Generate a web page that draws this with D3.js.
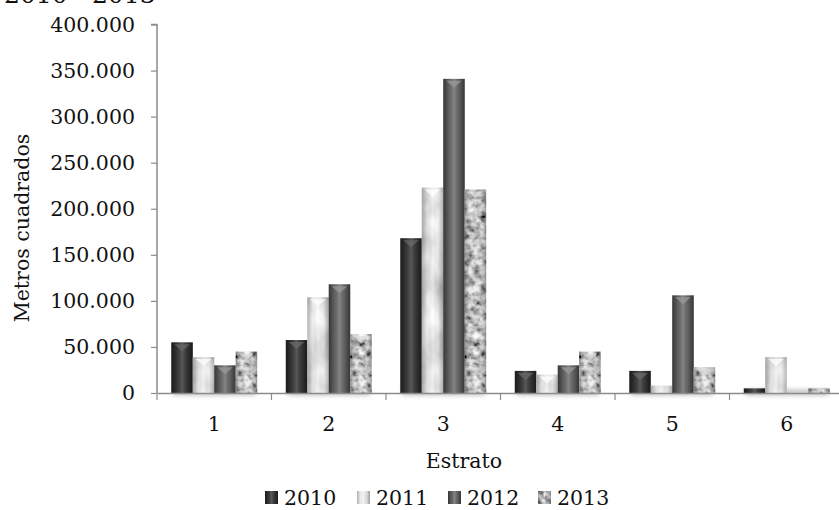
<!DOCTYPE html>
<html><head><meta charset="utf-8">
<script src="https://cdn.jsdelivr.net/npm/d3@7"></script>
<style>body{margin:0;background:#fff;overflow:hidden} svg{display:block}</style>
</head><body>
<svg id="chart" width="839" height="510"></svg>
<script>
const categories = ["1", "2", "3", "4", "5", "6"];
const seriesNames = ["2010", "2011", "2012", "2013"];
const values2010 = [55000, 57500, 168000, 24000, 24000, 5000];
const values2011 = [39000, 104000, 223000, 20000, 8000, 39000];
const values2012 = [30000, 118000, 341000, 30000, 106000, 0];
const values2013 = [45000, 64000, 221000, 45000, 28000, 5000];
const yTicks = [0, 50000, 100000, 150000, 200000, 250000, 300000, 350000, 400000];
const titleText = "2010 - 2013";
const xTitle = "Estrato";
const yTitle = "Metros cuadrados";

const seriesValues = [values2010, values2011, values2012, values2013];
const rows = categories.map((c, i) => ({cat: c, vals: seriesNames.map((s, k) => ({s, k, v: seriesValues[k][i]}))}));

const svg = d3.select("#chart");
const font = "'DejaVu Serif', serif";
const fmt = d3.formatLocale({decimal: ",", thousands: ".", grouping: [3], currency: ["", ""]}).format(",");

const x0 = d3.scaleBand().domain(categories).range([157, 844]).paddingInner(0.25).paddingOuter(0.125);
const x1 = d3.scaleBand().domain(seriesNames).range([0, x0.bandwidth()]).padding(0);
const y = d3.scaleLinear().domain([0, 400000]).range([393, 24.5]);

// ---- defs: textures & gradients
const defs = svg.append("defs");
function grad(id, stops) {
  const g = defs.append("linearGradient").attr("id", id).attr("x1", "0%").attr("x2", "100%").attr("y1", "0%").attr("y2", "0%");
  stops.forEach(([o, c, op]) => g.append("stop").attr("offset", o).attr("stop-color", c).attr("stop-opacity", op == null ? 1 : op));
}
grad("g2010", [["0%", "#262626"], ["50%", "#464646"], ["100%", "#262626"]]);
grad("g2012", [["0%", "#4e4e4e"], ["50%", "#777777"], ["100%", "#4e4e4e"]]);
grad("edge", [["0%", "#000", 0.28], ["25%", "#000", 0.05], ["50%", "#fff", 0.1], ["75%", "#000", 0.05], ["100%", "#000", 0.3]]);

function noiseFilter(id, freq, a, b, seed) {
  const f = defs.append("filter").attr("id", id).attr("x", 0).attr("y", 0).attr("width", "100%").attr("height", "100%");
  f.append("feTurbulence").attr("type", "fractalNoise").attr("baseFrequency", freq).attr("numOctaves", 3).attr("seed", seed).attr("result", "n");
  const m = `${a} 0 0 0 ${b}  ${a} 0 0 0 ${b}  ${a} 0 0 0 ${b}  0 0 0 0 1`;
  f.append("feColorMatrix").attr("in", "n").attr("type", "matrix").attr("values", m);
}
noiseFilter("f2011", "0.06 0.03", 0.7, 0.5, 3);
noiseFilter("f2013", "0.15", 1.7, -0.28, 7);
function noisePattern(id, filt) {
  const p = defs.append("pattern").attr("id", id).attr("patternUnits", "userSpaceOnUse").attr("width", 200).attr("height", 400);
  p.append("rect").attr("width", 200).attr("height", 400).attr("fill", "#fff").attr("filter", `url(#${filt})`);
}
noisePattern("p2011", "f2011");
noisePattern("p2013", "f2013");
const blur = defs.append("filter").attr("id", "blur").attr("x", "-20%").attr("y", "-200%").attr("width", "140%").attr("height", "500%");
blur.append("feGaussianBlur").attr("stdDeviation", 2.5);

const fills = ["url(#g2010)", "url(#p2011)", "url(#g2012)", "url(#p2013)"];
const triFill = ["#6a6a6a", "#ffffff", "#9a9a9a", "#dddddd"];

// ---- title (cut at top, as in the reference)
svg.append("text").attr("x", 4).attr("y", 3).attr("font-family", font).attr("font-size", 25)
  .attr("fill", "#111").text(titleText);

// ---- shadows under groups
svg.append("g").selectAll("rect").data(rows).join("rect")
  .attr("x", d => x0(d.cat) + 2).attr("width", x0.bandwidth() - 4)
  .attr("y", y(0) - 3).attr("height", 5).attr("fill", "#b8b8b8").attr("filter", "url(#blur)");

// ---- bars
const gBars = svg.append("g");
const groups = gBars.selectAll("g").data(rows).join("g").attr("transform", d => `translate(${x0(d.cat)},0)`);
const bars = groups.selectAll("g").data(d => d.vals.filter(v => v.v > 0)).join("g");
bars.append("rect")
  .attr("x", d => x1(d.s)).attr("width", x1.bandwidth())
  .attr("y", d => y(d.v)).attr("height", d => y(0) - y(d.v))
  .attr("fill", d => fills[d.k]);
bars.append("rect")
  .attr("x", d => x1(d.s)).attr("width", x1.bandwidth())
  .attr("y", d => y(d.v)).attr("height", d => y(0) - y(d.v))
  .attr("fill", "url(#edge)");
bars.filter(d => y(0) - y(d.v) > 12).append("path")
  .attr("d", d => {
    const xl = x1(d.s), w = x1.bandwidth(), t = y(d.v);
    return `M${xl + 3},${t + 2}L${xl + w - 3},${t + 2}L${xl + w / 2},${t + 9}Z`;
  })
  .attr("fill", d => triFill[d.k]).attr("opacity", 0.75);

// ---- y axis
const yAxis = svg.append("g").attr("transform", "translate(157,0)")
  .call(d3.axisLeft(y).tickValues(yTicks).tickFormat(d => fmt(d)).tickSize(6).tickPadding(16));
yAxis.select(".domain").attr("stroke", "#8c8c8c").attr("stroke-width", 1.5).attr("d", `M-6,${y(400000)}H0V${y(0)}`);
yAxis.selectAll(".tick line").attr("stroke", "#8c8c8c").attr("stroke-width", 1.2);
yAxis.selectAll(".tick text").attr("font-family", font).attr("font-size", 20.5).attr("fill", "#111");

// ---- x axis
const xAxis = svg.append("g").attr("transform", `translate(0,${y(0)})`)
  .call(d3.axisBottom(x0).tickSize(0).tickPadding(23));
xAxis.select(".domain").attr("stroke", "#8c8c8c").attr("stroke-width", 1.5);
xAxis.selectAll(".tick text").attr("font-family", font).attr("font-size", 20.5).attr("fill", "#111").attr("dy", "0.71em");
const bounds = categories.map(c => x0(c) - x0.step() * x0.paddingOuter());
xAxis.selectAll(".bnd").data(bounds).join("line").attr("class", "bnd")
  .attr("x1", d => d).attr("x2", d => d).attr("y1", 0).attr("y2", 7)
  .attr("stroke", "#8c8c8c").attr("stroke-width", 1.2);

// ---- axis titles
svg.append("text").attr("x", 464).attr("y", 468).attr("text-anchor", "middle")
  .attr("font-family", font).attr("font-size", 20.5).attr("fill", "#111").text(xTitle);
svg.append("text").attr("transform", "translate(29,228) rotate(-90)").attr("text-anchor", "middle")
  .attr("font-family", font).attr("font-size", 20.5).attr("fill", "#111").text(yTitle);

// ---- legend
const legX = [265, 357, 448, 538];
const leg = svg.append("g").selectAll("g").data(seriesNames).join("g")
  .attr("transform", (d, i) => `translate(${legX[i]},0)`);
leg.append("rect").attr("x", 0).attr("y", 491).attr("width", 13).attr("height", 13).attr("fill", (d, i) => fills[i]);
leg.append("rect").attr("x", 0).attr("y", 491).attr("width", 13).attr("height", 13).attr("fill", "url(#edge)");
leg.append("text").attr("x", 19).attr("y", 505).attr("font-family", font).attr("font-size", 20.5)
  .attr("fill", "#111").text(d => d);
</script>
</body></html>
